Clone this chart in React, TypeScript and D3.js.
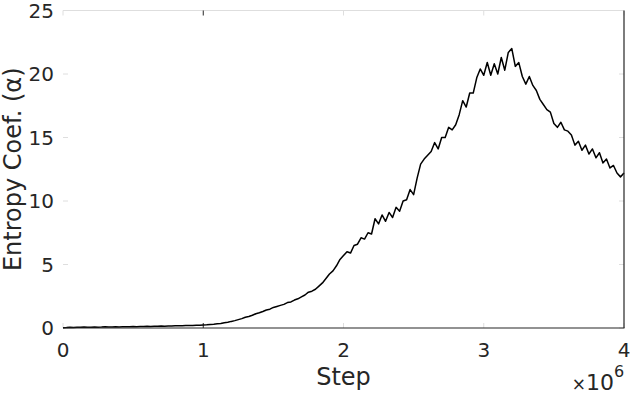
import * as d3 from 'd3';
import { useEffect, useRef } from 'react';

const width = 630;
const height = 394;
const margin = { top: 10.5, left: 63, bottom: 66, right: 6 };

// steps in units of 1e6, one point every 0.025e6
const stepStart = 0;
const stepSize = 0.025;
const entropyCoef = [
  0.02, 0.03, 0.05, 0.04, 0.06, 0.05, 0.07, 0.05, 0.06, 0.08,
  0.06, 0.07, 0.09, 0.07, 0.08, 0.1, 0.08, 0.09, 0.1, 0.09,
  0.11, 0.1, 0.12, 0.11, 0.13, 0.12, 0.14, 0.13, 0.15, 0.14,
  0.16, 0.15, 0.17, 0.18, 0.17, 0.19, 0.2, 0.19, 0.21, 0.22,
  0.24, 0.25, 0.28, 0.3, 0.33, 0.36, 0.42, 0.45, 0.52, 0.58,
  0.66, 0.74, 0.85, 0.9, 1.0, 1.12, 1.2, 1.3, 1.42, 1.48,
  1.62, 1.7, 1.78, 1.86, 2.0, 2.05, 2.2, 2.3, 2.45, 2.6,
  2.82, 2.9, 3.05, 3.3, 3.55, 3.9, 4.25, 4.5, 4.9, 5.4,
  5.7, 6.0, 5.9, 6.5, 6.6, 7.1, 7.0, 7.5, 7.4, 8.6,
  8.2, 8.9, 8.4, 9.1, 8.7, 9.5, 9.2, 10.0, 10.1, 10.9,
  10.5, 11.8, 12.9, 13.3, 13.6, 13.9, 14.6, 14.1, 15.0, 15.0,
  15.8, 15.6, 16.0, 16.8, 17.9, 17.4, 18.5, 18.5, 19.7, 20.4,
  19.9, 20.9, 19.9, 20.8, 20.0, 21.3, 20.3, 21.7, 22.0, 20.6,
  20.9, 19.8, 19.2, 19.8, 19.1, 18.7, 18.0, 17.6, 17.2, 17.0,
  16.1, 15.8, 16.2, 15.6, 15.5, 15.2, 14.4, 14.7, 14.0, 14.4,
  13.7, 14.1, 13.4, 13.8, 13.0, 13.3, 12.6, 12.8, 12.2, 11.9,
  12.2,
];
const xTicks = [0, 1, 2, 3, 4];
const yTicks = [0, 5, 10, 15, 20, 25];

const axisColor = '#262626';
const lightGray = '#dedede';
const font = 'DejaVu Sans, sans-serif';

function App() {
  const ref = useRef<SVGSVGElement>(null);

  useEffect(() => {
    const svg = d3.select(ref.current);
    svg.selectAll('*').remove();

    const x = d3.scaleLinear().domain([0, 4]).range([margin.left, width - margin.right]);
    const y = d3.scaleLinear().domain([0, 25]).range([height - margin.bottom, margin.top]);
    const x0 = x(0), x1 = x(4), y0 = y(0), y1 = y(25);

    // top box line (light)
    svg.append('line').attr('x1', x0).attr('x2', x1).attr('y1', y1).attr('y2', y1)
      .attr('stroke', lightGray).attr('stroke-width', 1);

    // y ticks (inward, both sides)
    yTicks.forEach((t) => {
      svg.append('line').attr('x1', x0).attr('x2', x0 + 5).attr('y1', y(t)).attr('y2', y(t))
        .attr('stroke', lightGray);
      svg.append('line').attr('x1', x1 - 5).attr('x2', x1).attr('y1', y(t)).attr('y2', y(t))
        .attr('stroke', lightGray);
    });
    // x ticks (inward, top and bottom)
    xTicks.forEach((t) => {
      const c = t === 1 ? axisColor : lightGray;
      svg.append('line').attr('x1', x(t)).attr('x2', x(t)).attr('y1', y0).attr('y2', y0 - 5)
        .attr('stroke', c);
      svg.append('line').attr('x1', x(t)).attr('x2', x(t)).attr('y1', y1).attr('y2', y1 + 5)
        .attr('stroke', c);
    });

    // data line
    const line = d3.line<number>()
      .x((_, i) => x(stepStart + i * stepSize))
      .y((d) => y(d));
    svg.append('path').datum(entropyCoef)
      .attr('d', line)
      .attr('fill', 'none')
      .attr('stroke', '#000')
      .attr('stroke-width', 1.5)
      .attr('stroke-linejoin', 'round');

    // bottom and right axis lines
    svg.append('line').attr('x1', x0).attr('x2', x1 + 0.5).attr('y1', y0).attr('y2', y0)
      .attr('stroke', axisColor).attr('stroke-width', 1.2);
    svg.append('line').attr('x1', x1).attr('x2', x1).attr('y1', y1).attr('y2', y0)
      .attr('stroke', axisColor).attr('stroke-width', 1.2);

    // tick labels
    svg.append('g').selectAll('text').data(yTicks).join('text')
      .attr('x', x0 - 9).attr('y', (d) => y(d)).attr('dy', '0.36em')
      .attr('text-anchor', 'end').attr('font-family', font).attr('font-size', 20)
      .attr('fill', axisColor).text((d) => d);
    svg.append('g').selectAll('text').data(xTicks).join('text')
      .attr('x', (d) => x(d)).attr('y', y0 + 29)
      .attr('text-anchor', 'middle').attr('font-family', font).attr('font-size', 20)
      .attr('fill', axisColor).text((d) => d);

    // axis titles
    svg.append('text').attr('x', (x0 + x1) / 2).attr('y', 385)
      .attr('text-anchor', 'middle').attr('font-family', font).attr('font-size', 24)
      .attr('fill', axisColor).text('Step');
    svg.append('text')
      .attr('transform', `translate(21, ${(y0 + y1) / 2}) rotate(-90)`)
      .attr('text-anchor', 'middle').attr('font-family', font).attr('font-size', 24)
      .attr('fill', axisColor).text('Entropy Coef. (α)');

    // exponent
    const exp = svg.append('text').attr('x', 614).attr('y', 390)
      .attr('text-anchor', 'end').attr('font-family', font).attr('font-size', 22)
      .attr('fill', axisColor);
    exp.append('tspan').attr('font-size', 17).text('×');
    exp.append('tspan').text('10');
    svg.append('text').attr('x', 614).attr('y', 377)
      .attr('font-family', font).attr('font-size', 16)
      .attr('fill', axisColor).text('6');
  }, []);

  return (
    <svg
      ref={ref}
      width={width}
      height={height}
      style={{ position: 'absolute', left: 0, top: 0, background: '#fff' }}
    />
  );
}

export default App;
